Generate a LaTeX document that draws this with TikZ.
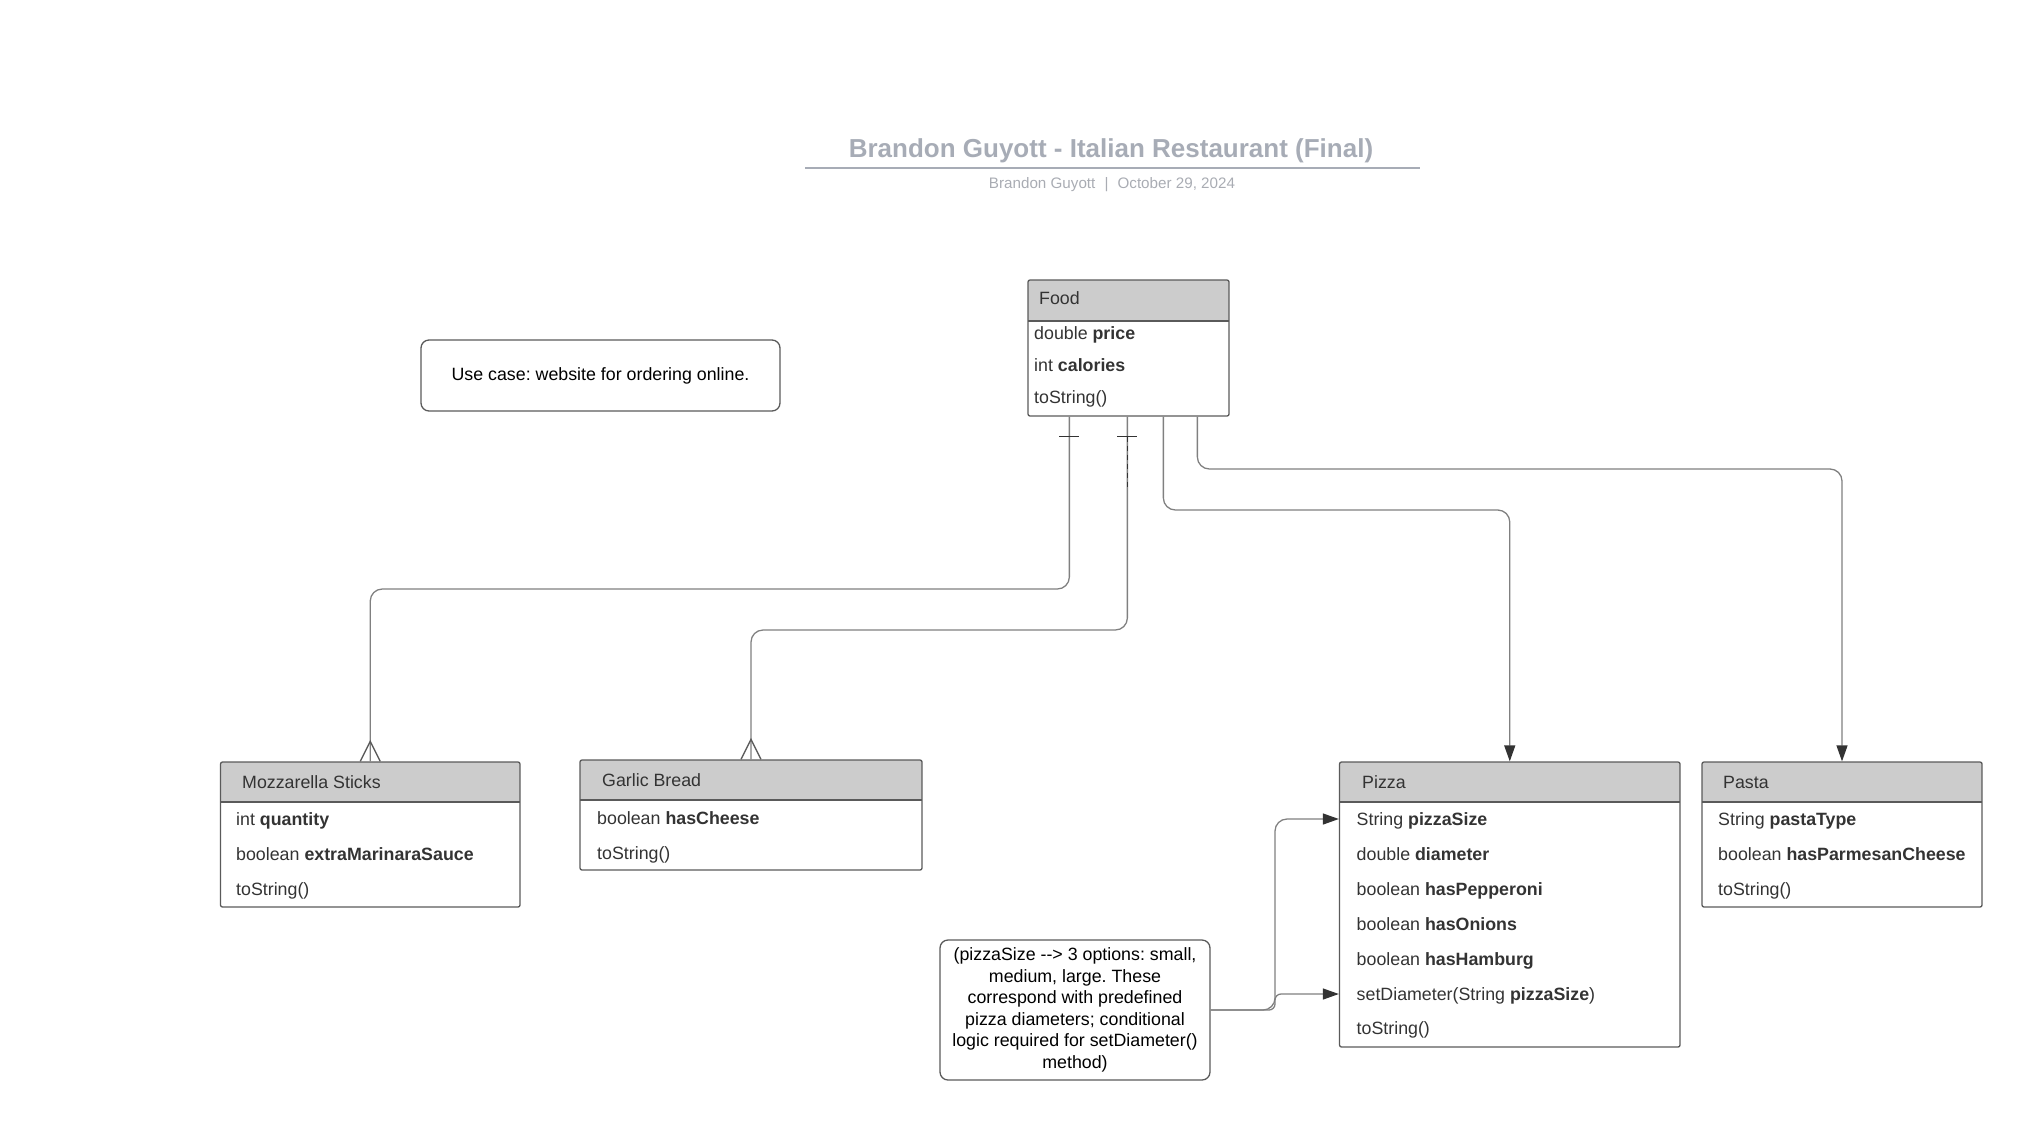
\documentclass[tikz,border=0pt]{standalone}
\usepackage{fontspec}
\setmainfont{Liberation Sans}
\usetikzlibrary{arrows.meta,calc,fit}
\definecolor{hdrfill}{HTML}{CCCCCC}
\definecolor{boxc}{HTML}{5A5A5A}
\definecolor{linec}{HTML}{808080}
\definecolor{darkc}{HTML}{333333}
\definecolor{titlec}{HTML}{A7ACB6}
\definecolor{subc}{HTML}{A9ACB3}
\newcommand\umlbox[6]{%
  \begin{scope}
    \clip[rounded corners=2pt] (#2,#3) rectangle (#4,#6);
    \fill[hdrfill] (#2,#3) rectangle (#4,#5);
  \end{scope}
  \draw[boxc, line width=1.3pt] (#2,#5) -- (#4,#5);
  \node[boxborder, fit={(#2,#3) (#4,#6)}] (#1) {};}
\frenchspacing
\begin{document}
\begin{tikzpicture}[x=1pt,y=-1pt,
  boxborder/.style={draw=boxc, line width=1.3pt, rounded corners=2pt, inner sep=0pt},
  hdrtext/.style={anchor=west, inner sep=0pt, text height=12.7pt, text depth=0pt, text=darkc, font=\fontsize{17.8}{21.5}\selectfont},
  rowtext/.style={hdrtext},
  notebox/.style={draw=boxc, line width=1.3pt, rounded corners=8pt, text=black, align=center, inner sep=0pt, font=\fontsize{17.8}{21.5}\selectfont},
  conn/.style={draw=linec, line width=1.3pt, rounded corners=12pt},
  arr/.style={-{Triangle[length=16pt,width=11pt,color=darkc]}},
  tickl/.style={draw=darkc, line width=1.3pt}]
\useasboundingbox (0,0) rectangle (2020,1120);

% title
\node[anchor=base, text=titlec, inner sep=0pt, font=\fontsize{26}{30}\selectfont\bfseries] (title) at (1111,157) {Brandon Guyott - Italian Restaurant (Final)};
\draw[titlec, line width=2pt] (805,167.5) -- (1420,167.5);
\node[anchor=base, text=subc, inner sep=0pt, font=\fontsize{15.2}{18}\selectfont] (sub) at (1112,188.5) {Brandon Guyott\hspace{0.6em}|\hspace{0.6em}October 29, 2024};

% use case
\node[notebox, minimum width=359pt, minimum height=71pt] (uc) at (600.5,375.5) {Use case: website for ordering online.};

% Food
\umlbox{food}{1028}{280}{1229}{321}{416}
\node[hdrtext] (food-t) at (1039,298) {Food};
\node[rowtext] (food-1) at (1034,333) {double \textbf{price}};
\node[rowtext] (food-2) at (1034,365) {int \textbf{calories}};
\node[rowtext] (food-3) at (1034,397) {toString()};

% Mozzarella Sticks
\umlbox{moz}{220.5}{762}{520}{802}{907}
\node[hdrtext] (moz-t) at (242,782) {Mozzarella Sticks};
\node[rowtext] (moz-1) at (236,819) {int \textbf{quantity}};
\node[rowtext] (moz-2) at (236,854) {boolean \textbf{extraMarinaraSauce}};
\node[rowtext] (moz-3) at (236,889) {toString()};

% Garlic Bread
\umlbox{gar}{580}{760}{922}{800}{870}
\node[hdrtext] (gar-t) at (602,780) {Garlic Bread};
\node[rowtext] (gar-1) at (597,818) {boolean \textbf{hasCheese}};
\node[rowtext] (gar-2) at (597,853) {toString()};

% Pizza
\umlbox{pizza}{1339.5}{762}{1680}{802}{1047}
\node[hdrtext] (pz-t) at (1362,782) {Pizza};
\node[rowtext] (pz-1) at (1356.5,819) {String \textbf{pizzaSize}};
\node[rowtext] (pz-2) at (1356.5,854) {double \textbf{diameter}};
\node[rowtext] (pz-3) at (1356.5,889) {boolean \textbf{hasPepperoni}};
\node[rowtext] (pz-4) at (1356.5,924) {boolean \textbf{hasOnions}};
\node[rowtext] (pz-5) at (1356.5,959) {boolean \textbf{hasHamburg}};
\node[rowtext] (pz-6) at (1356.5,994) {setDiameter(String \textbf{pizzaSize})};
\node[rowtext] (pz-7) at (1356.5,1028) {toString()};

% Pasta
\umlbox{pasta}{1702}{762}{1982}{802}{907}
\node[hdrtext] (pa-t) at (1723,782) {Pasta};
\node[rowtext] (pa-1) at (1718,819) {String \textbf{pastaType}};
\node[rowtext] (pa-2) at (1718,854) {boolean \textbf{hasParmesanCheese}};
\node[rowtext] (pa-3) at (1718,889) {toString()};

% note
\node[notebox, minimum width=270pt, minimum height=140pt] (note) at (1075,1010) {(pizzaSize \mbox{-}\mbox{-}> 3 options: small,\\ medium, large. These\\ correspond with predefined\\ pizza diameters; conditional\\ logic required for setDiameter()\\ method)};

% connectors from Food
\coordinate (f1) at ($(food.south west)+(42,0)$);
\coordinate (f2) at ($(food.south west)+(100,0)$);
\coordinate (f3) at ($(food.south west)+(136,0)$);
\coordinate (f4) at ($(food.south west)+(170,0)$);
\coordinate (j1) at (0,589);
\coordinate (j2) at (0,630);
\coordinate (j3) at (0,510);
\coordinate (j4) at (0,469);

\draw[conn] (f1) -- (f1 |- j1) -- (moz.north |- j1) -- (moz.north);
\draw[conn] (f2) -- (f2 |- j2) -- (gar.north |- j2) -- (gar.north);
\draw[conn, arr] (f3) -- (f3 |- j3) -- (pizza.north |- j3) -- (pizza.north);
\draw[conn, arr] (f4) -- (f4 |- j4) -- (pasta.north |- j4) -- (pasta.north);

% one-marks and dashed part
\draw[tickl] ($(f1)+(-10,20)$) -- ($(f1)+(10,20)$);
\draw[tickl] ($(f2)+(-10,20)$) -- ($(f2)+(10,20)$);
\draw[darkc, line width=1.3pt, dash pattern=on 5pt off 4pt] ($(f2)+(0,20)$) -- ($(f2)+(0,71)$);

% crow's feet
\draw[boxc, line width=1.3pt] ($(moz.north)+(-10,0)$) -- ($(moz.north)+(0,-20)$) -- ($(moz.north)+(10,0)$);
\draw[boxc, line width=1.3pt] ($(gar.north)+(-10,0)$) -- ($(gar.north)+(0,-20)$) -- ($(gar.north)+(10,0)$);

% note connectors
\coordinate (nj) at (1275,0);
\draw[conn, arr] (note.east) -- (nj |- note.east) -- (nj |- pz-1) -- (pizza.west |- pz-1);
\draw[conn, rounded corners=6pt, arr] (note.east) -- (nj |- note.east) -- (nj |- pz-6) -- (pizza.west |- pz-6);
\end{tikzpicture}
\end{document}
